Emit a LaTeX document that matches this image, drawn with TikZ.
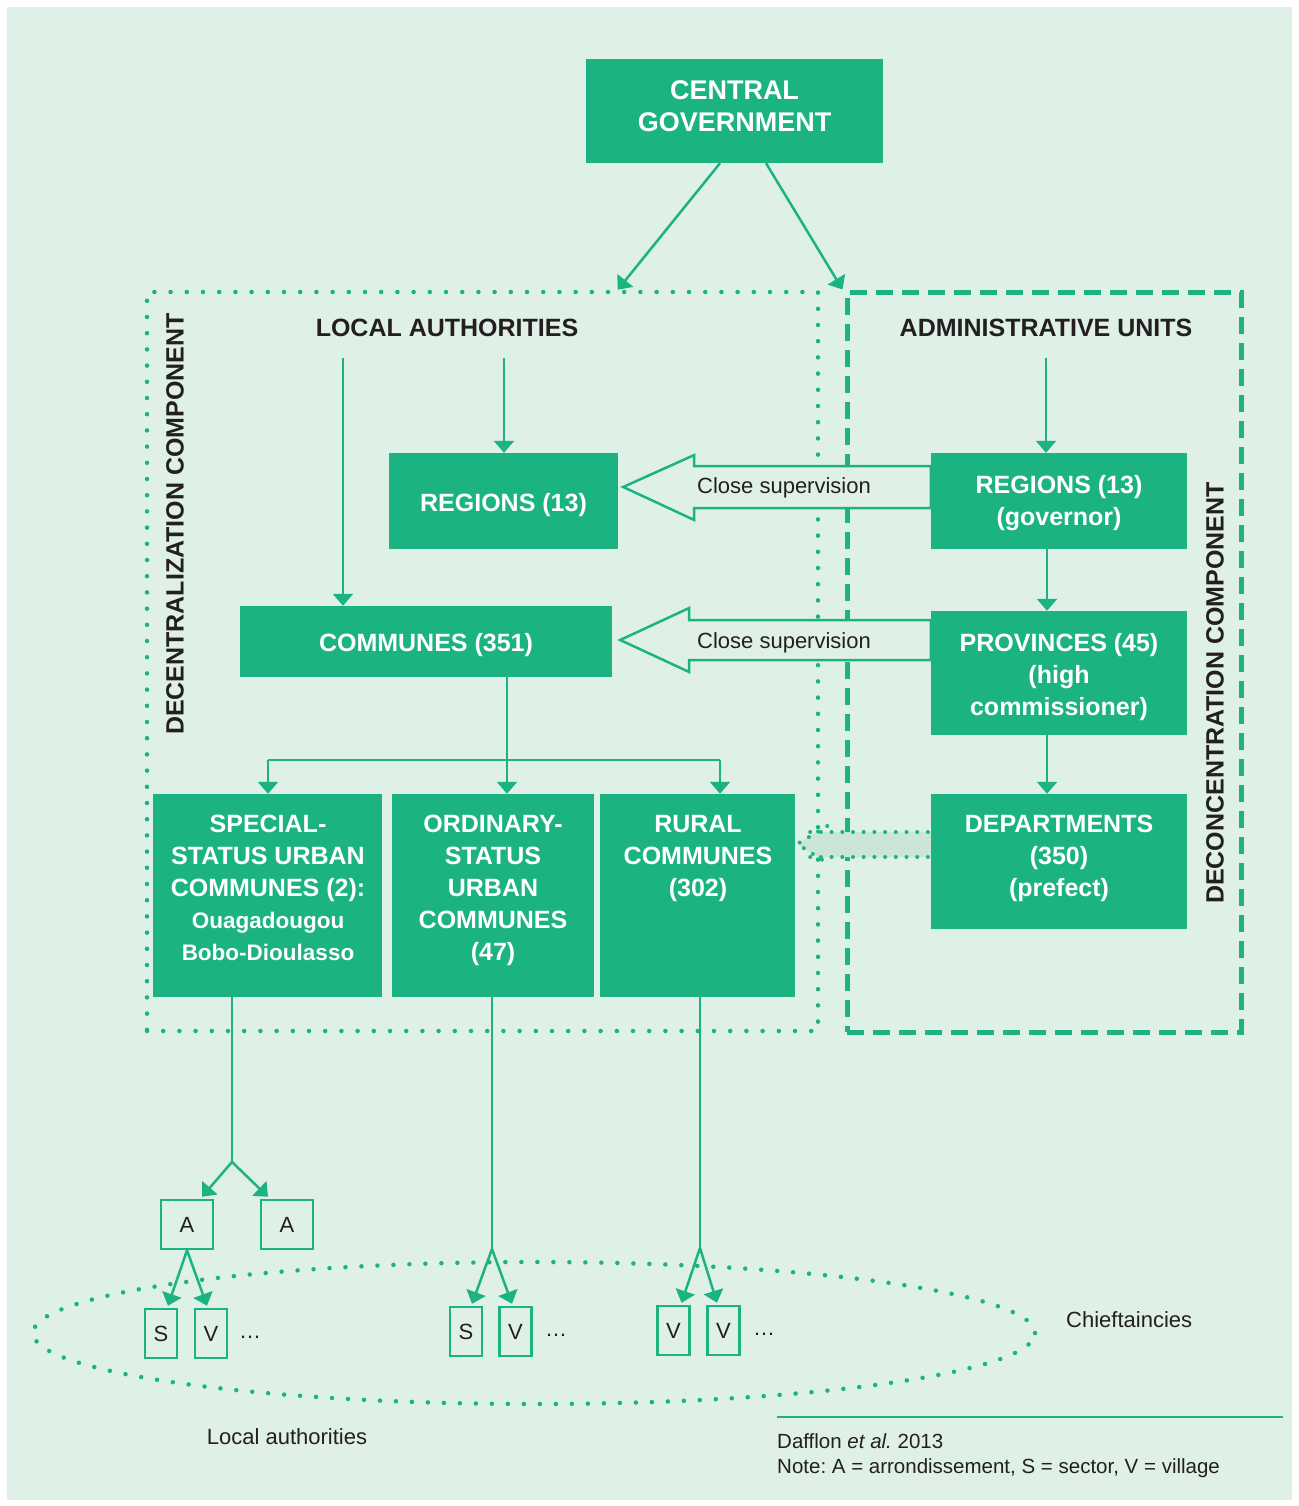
\documentclass[tikz,border=0pt]{standalone}
\usepackage{fontspec}
\setmainfont{Liberation Sans}
\usetikzlibrary{arrows.meta}
\definecolor{gbox}{RGB}{27,179,129}
\definecolor{bgc}{RGB}{223,240,230}
\definecolor{bandc}{RGB}{203,229,215}
\definecolor{ink}{RGB}{35,31,32}
\frenchspacing
\begin{document}
\begin{tikzpicture}[x=1pt,y=-1pt,
  gb/.style={fill=gbox, draw=none, inner sep=0pt},
  bt/.style={text=white, font=\fontsize{25}{32}\selectfont\bfseries, align=center, inner sep=0pt, anchor=north},
  hd/.style={text=ink, font=\fontsize{25}{30}\selectfont\bfseries, inner sep=0pt},
  rt/.style={text=ink, font=\fontsize{22}{26}\selectfont, inner sep=0pt},
  sbox/.style={draw=gbox, line width=2.5pt, fill=bgc, inner sep=0pt, text=ink, font=\fontsize{22}{26}\selectfont, minimum height=49pt},
  conn/.style={draw=gbox, line width=2.5pt},
  arr/.style={conn, -{Triangle[length=12pt,width=20pt]}},
  dotframe/.style={draw=gbox, line width=4.5pt, line cap=round, dash pattern=on 0pt off 16.2pt, inner sep=0pt},
  dashframe/.style={draw=gbox, line width=5pt, dash pattern=on 17pt off 9pt, inner sep=0pt},
  dotline/.style={draw=gbox, line width=4.5pt, line cap=round, dash pattern=on 0pt off 16pt},
  dotsmall/.style={draw=gbox, line width=4pt, line cap=round, dash pattern=on 0pt off 10.7pt},
  hollow/.style={draw=gbox, line width=2.5pt, fill=bgc, line join=miter}
]
\useasboundingbox (0,0) rectangle (1298,1506);
\fill[white] (0,0) rectangle (1298,1506);
\fill[bgc] (7,7) rectangle (1292,1500);

% frames
\node[dotframe, minimum width=671pt, minimum height=739pt] (dec) at (482.5,661.5) {};
\node[dashframe, minimum width=394pt, minimum height=740pt] (adm) at (1044,662) {};

% boxes
\node[gb, minimum width=297pt, minimum height=104pt] (cg) at (734.5,111) {};
\node[gb, minimum width=229pt, minimum height=96pt] (regL) at (503.5,501) {};
\node[gb, minimum width=256pt, minimum height=96pt] (regR) at (1059,501) {};
\node[gb, minimum width=372pt, minimum height=71pt] (comm) at (426,641.5) {};
\node[gb, minimum width=256pt, minimum height=124pt] (prov) at (1059,673) {};
\node[gb, minimum width=256pt, minimum height=135pt] (dept) at (1059,861.5) {};
\node[gb, minimum width=229pt, minimum height=203pt] (spec) at (267.5,895.5) {};
\node[gb, minimum width=202pt, minimum height=203pt] (ord) at (493,895.5) {};
\node[gb, minimum width=195pt, minimum height=203pt] (rur) at (697.5,895.5) {};

% hollow arrows (close supervision)
\coordinate (t1) at ([xshift=5pt,yshift=14pt]regL.east);
\draw[hollow] (t1) -- ++(71,-32) -- ++(0,11) -- ([yshift=21pt]t1 -| regR.west)
  -- ([yshift=-21pt]t1 -| regR.west) -- ([xshift=71pt,yshift=-21pt]t1)
  -- ([xshift=71pt,yshift=-33pt]t1) -- cycle;
\coordinate (t2) at ([xshift=8pt,yshift=1.5pt]comm.east);
\draw[hollow] (t2) -- ++(69,-32) -- ++(0,12) -- ([yshift=20pt]t2 -| prov.west)
  -- ([yshift=-20pt]t2 -| prov.west) -- ([xshift=69pt,yshift=-20pt]t2)
  -- ([xshift=69pt,yshift=-32pt]t2) -- cycle;
\node[rt, anchor=base west] (cs1) at (697,493) {Close supervision};
\node[rt, anchor=base west] (cs2) at (697,648) {Close supervision};

% dotted band between rural communes and departments
\coordinate (bt) at ([xshift=2pt,yshift=51.5pt]rur.east);
\fill[bandc] (bt) -- ++(20,-12) -- ([yshift=12pt]bt -| dept.west)
  -- ([yshift=-13pt]bt -| dept.west) -- ([xshift=20pt,yshift=-13pt]bt) -- cycle;
\draw[dotsmall] ([xshift=13pt,yshift=12pt]bt) -- ([yshift=12pt]bt -| dept.west);
\draw[dotsmall] ([xshift=13pt,yshift=-13pt]bt) -- ([yshift=-13pt]bt -| dept.west);
\draw[dotsmall] ([xshift=30pt,yshift=18pt]bt) -- (bt) -- ([xshift=30pt,yshift=-19pt]bt);

% headings
\node[hd] (la) at (447,328) {LOCAL AUTHORITIES};
\node[hd] (au) at (1046,328) {ADMINISTRATIVE UNITS};
\node[hd, rotate=90] (decl) at (175,524) {DECENTRALIZATION COMPONENT};
\node[hd, rotate=90] (decr) at (1215,693) {DECONCENTRATION COMPONENT};

% connectors
\draw[arr] ([xshift=-14.5pt]cg.south) -- ([xshift=473pt]dec.north west);
\draw[arr] ([xshift=31.5pt]cg.south) -- ([xshift=-2pt]adm.north west);
\coordinate (la1) at (343,358);
\coordinate (la2) at (504,358);
\coordinate (au1) at (1046,358);
\draw[arr] (la1) -- (la1 |- comm.north);
\draw[arr] (la2) -- (la2 |- regL.north);
\draw[arr] (au1) -- (au1 |- regR.north);
\coordinate (rp) at (1047,549);
\draw[arr] (rp |- regR.south) -- (rp |- prov.north);
\draw[arr] (rp |- prov.south) -- (rp |- dept.north);

\coordinate (cj) at (507,760);
\coordinate (cl) at (268,760);
\coordinate (cr) at (720,760);
\draw[conn] (cj |- comm.south) -- (cj);
\draw[conn] (cl) -- (cr);
\draw[arr] (cl) -- (cl |- spec.north);
\draw[arr] (cj) -- (cj |- ord.north);
\draw[arr] (cr) -- (cr |- rur.north);

% chieftaincies ellipse
\draw[dotline] (534,1333) ellipse [x radius=501pt, y radius=71pt];

% small boxes
\node[sbox, minimum width=52pt] (a1) at (187,1224.5) {A};
\node[sbox, minimum width=52pt] (a2) at (287,1224.5) {A};
\node[sbox, minimum width=32pt] (s1) at (161,1333.5) {S};
\node[sbox, minimum width=32pt] (v1) at (211,1333.5) {V};
\node[sbox, minimum width=32pt] (s2) at (466,1331.5) {S};
\node[sbox, minimum width=32pt] (v2) at (515.5,1331.5) {V};
\node[sbox, minimum width=32pt] (v3) at (673.5,1330.5) {V};
\node[sbox, minimum width=32pt] (v4) at (723.5,1330.5) {V};
\node[rt] (d1) at (250,1337) {…};
\node[rt] (d2) at (556,1335) {…};
\node[rt] (d3) at (764,1334) {…};

\coordinate (sj) at (232,1162);
\draw[conn] (sj |- spec.south) -- (sj);
\draw[arr] (sj) -- ([xshift=15pt,yshift=2pt]a1.north);
\draw[arr] (sj) -- ([xshift=-19pt,yshift=2pt]a2.north);
\draw[arr] (a1.south) -- ([xshift=7pt,yshift=2pt]s1.north);
\draw[arr] (a1.south) -- ([xshift=-4pt,yshift=2pt]v1.north);
\coordinate (oj) at (492,1249);
\draw[conn] (oj |- ord.south) -- (oj);
\draw[arr] (oj) -- ([xshift=6pt,yshift=2pt]s2.north);
\draw[arr] (oj) -- ([xshift=-3.5pt,yshift=2pt]v2.north);
\coordinate (rj) at (700,1248);
\draw[conn] (rj |- rur.south) -- (rj);
\draw[arr] (rj) -- ([xshift=8pt,yshift=2pt]v3.north);
\draw[arr] (rj) -- ([xshift=-6.5pt,yshift=2pt]v4.north);

% box texts
\node[bt, font=\fontsize{27}{32}\selectfont\bfseries] (cgt) at (734.5,80.3) {CENTRAL\\GOVERNMENT};
\node[bt] (regLt) at (503.5,493) {REGIONS (13)};
\node[bt] (regRt) at (1059,475) {REGIONS (13)\\(governor)};
\node[bt] (commt) at (426,633) {COMMUNES (351)};
\node[bt] (provt) at (1059,633) {PROVINCES (45)\\(high\\commissioner)};
\node[bt] (deptt) at (1059,815) {DEPARTMENTS\\(350)\\(prefect)};
\node[bt] (spect) at (268,815) {SPECIAL-\\STATUS URBAN\\COMMUNES (2):\\{\fontsize{22.5}{32}\selectfont Ouagadougou}\\{\fontsize{22.5}{32}\selectfont Bobo-Dioulasso}};
\node[bt] (ordt) at (493,815) {ORDINARY-\\STATUS\\URBAN\\COMMUNES\\(47)};
\node[bt] (rurt) at (698,815) {RURAL\\COMMUNES\\(302)};

% other labels
\node[rt, anchor=base west] (chief) at (1066,1327) {Chieftaincies};
\node[rt, anchor=base] (lauth) at (287,1444) {Local authorities};
\coordinate (rl) at (777,1417);
\coordinate (rr) at (1283,1417);
\draw[draw=gbox, line width=1.5pt] (rl) -- (rr);
\node[text=ink, font=\fontsize{20.5}{25}\selectfont, inner sep=0pt, anchor=base west] (src) at (777,1448) {Dafflon \textit{et al.}\ 2013};
\node[text=ink, font=\fontsize{20.5}{25}\selectfont, inner sep=0pt, anchor=base west] (note) at (777,1473) {Note: A = arrondissement, S = sector, V = village};
\end{tikzpicture}
\end{document}
